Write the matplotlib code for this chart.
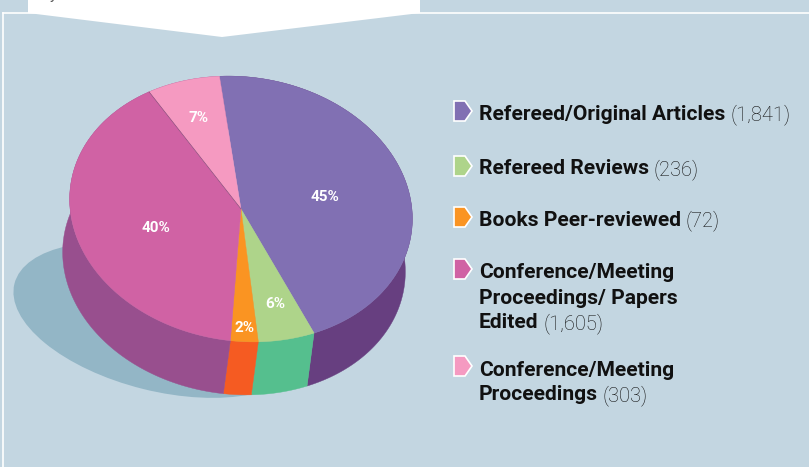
import numpy as np
import matplotlib
matplotlib.use('Agg')
from matplotlib import pyplot as plt
from matplotlib.patches import Polygon, Ellipse

categories = ['Refereed/Original Articles', 'Refereed Reviews', 'Books Peer-reviewed',
              'Conference/Meeting\nProceedings/ Papers\nEdited', 'Conference/Meeting\nProceedings']
count_labels = ['(1,841)', '(236)', '(72)', '(1,605)', '(303)']
pct_labels = ['45%', '6%', '2%', '40%', '7%']
# slice sizes as drawn in the picture, they differ a bit from the printed percents
slice_shares = [45, 5.4, 2.6, 40, 7]
top_colors = ['#8170b3', '#aed48a', '#fa9422', '#d062a4', '#f59ac1']
side_colors = ['#673f80', '#55bf8e', '#f55b22', '#984f8e', '#984f8e']

BG = '#c3d6e1'
plt.rcParams['font.family'] = ['Roboto', 'DejaVu Sans']


def pie_points(a0, a1):
    # angles clockwise from the top of the disc, tilted ellipse in pixel coords
    t = np.radians(np.linspace(a0, a1, max(int(a1 - a0) * 2, 2)))
    u = 172 * np.sin(t)
    v = -132 * np.cos(t)
    phi = np.radians(8)
    x = 241 + u * np.cos(phi) - v * np.sin(phi)
    y = 209 + u * np.sin(phi) + v * np.cos(phi)
    return np.column_stack([x, y])


fig = plt.figure(figsize=(8.09, 4.67), dpi=100, facecolor=BG)
ax = fig.add_axes([0, 0, 1, 1])
ax.set_xlim(0, 809)
ax.set_ylim(467, 0)
ax.axis('off')

# frame and white tab on top
ax.plot([3, 3], [467, 13], color='white', lw=1.2)
ax.plot([3, 809], [13, 13], color='white', lw=1.2)
ax.add_patch(Polygon([(28, 0), (28, 13), (222, 37), (420, 13), (420, 0)], color='white', lw=0))
ax.text(50, -1, 'y', fontsize=11, color='#555555', va='baseline')

# shadow
ax.add_patch(Ellipse((160, 320), 300, 142, angle=14, color='#93b6c6', lw=0))

edges = np.cumsum([0] + slice_shares) / sum(slice_shares) * 360 - 13.4
depth = np.array([-7, 53])

for i in range(len(slice_shares)):
    arc = pie_points(edges[i], edges[i + 1])
    ax.add_patch(Polygon(np.vstack([arc, (arc + depth)[::-1]]), color=side_colors[i], lw=0.3))

for i in range(len(slice_shares)):
    arc = pie_points(edges[i], edges[i + 1])
    ax.add_patch(Polygon(np.vstack([[(241, 209)], arc]), color=top_colors[i], lw=0.3))

# dark hairline between the two pinks
arc = pie_points(edges[4], edges[5])
ax.plot([241, arc[0, 0]], [209, arc[0, 1]], color='#8a4a7c', lw=0.5)

pct_pos = [(325, 197), (275, 304), (245, 328), (156, 228), (199, 118)]
for s, (x, y) in zip(pct_labels, pct_pos):
    ax.text(x, y, s, color='white', fontsize=11, fontweight='bold', ha='center', va='center')

# legend
marker_y = [111, 166, 217, 269, 366]
text_y = [112, 167, 218, 271, 368]
line_gap = 25
fig.canvas.draw()
rend = fig.canvas.get_renderer()
for i, name in enumerate(categories):
    y = marker_y[i]
    ax.add_patch(Polygon([(454, y - 10), (465, y - 10), (472, y), (465, y + 10), (454, y + 10)],
                         facecolor=top_colors[i], edgecolor='white', lw=1.2))
    lines = name.split('\n')
    for j, line in enumerate(lines):
        t = ax.text(479, text_y[i] + j * line_gap, line, fontsize=15.1, fontweight='bold',
                    color='#111111', va='center_baseline')
    box = t.get_window_extent(rend)
    ax.text(box.x1 + 5, text_y[i] + (len(lines) - 1) * line_gap, count_labels[i], fontsize=14.5,
            fontweight='light', color='#111111', va='center_baseline')

fig.savefig('out.png', dpi=100, facecolor=BG)
